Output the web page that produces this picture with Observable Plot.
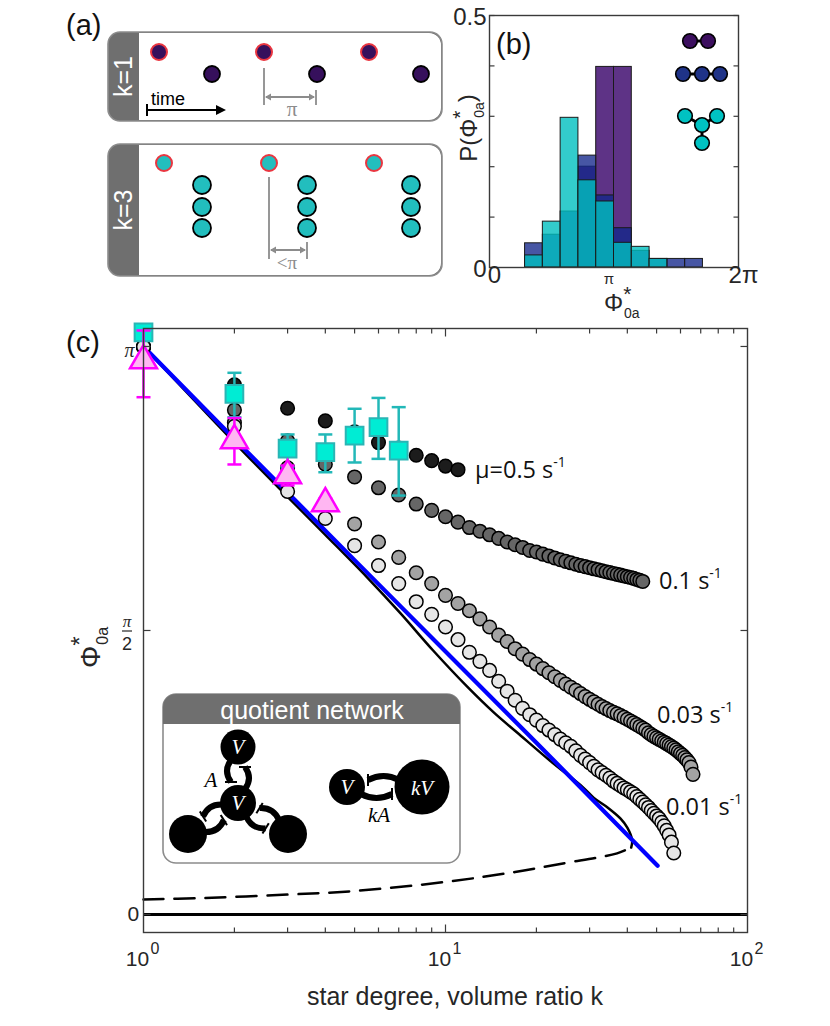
<!DOCTYPE html>
<html><head><meta charset="utf-8">
<script src="https://cdn.jsdelivr.net/npm/d3@7"></script>
<script src="https://cdn.jsdelivr.net/npm/@observablehq/plot@0.6"></script>
<style>
body{margin:0;background:#fff;}
#root{position:relative;width:830px;height:1026px;overflow:hidden;font-family:"Liberation Sans",Arial,sans-serif;}
#root > svg{position:absolute;overflow:visible;}
</style></head><body><div id="root"></div>
<script>
// ---------- DATA ----------
// panel (b): histogram bins (index of bin of width 2π/14) and probabilities
const histBins  = [2, 3, 4, 5, 6, 7, 8, 9, 10, 11];
const histPair  = [0, 0, 0, 0.200, 0.398, 0.398, 0, 0, 0, 0];
const histChain = [0.048, 0.065, 0.111, 0.222, 0.143, 0.078, 0.033, 0.017, 0.017, 0.017];
const histStar  = [0.024, 0.091, 0.297, 0.173, 0.131, 0.049, 0.041, 0.017, 0, 0];

// panel (c): simulated phase vs k for four mu values (k = 1, 2, 3, ...)
const mu05 = [3.14,2.93,2.80,2.73,2.67,2.61,2.58,2.54,2.51,2.48,2.46];
const mu01 = [3.14,2.79,2.62,2.49,2.42,2.36,2.32,2.27,2.235,2.20,2.17,2.14,2.12,2.10,2.08,2.06,2.045,2.03,2.013,2.005,
  1.993,1.983,1.972,1.962,1.953,1.945,1.937,1.93,1.924,1.918,1.912,1.907,1.901,1.896,1.891,1.886,1.881,1.877,1.872,1.868,
  1.864,1.859,1.853,1.848,1.842];
const mu003 = [3.14,2.72,2.47,2.28,2.16,2.06,1.975,1.89,1.83,1.765,1.72,1.68,1.635,1.59,1.545,1.51,1.47,1.44,1.41,1.385,
  1.36,1.337,1.315,1.295,1.275,1.257,1.24,1.222,1.205,1.19,1.176,1.163,1.15,1.139,1.128,1.118,1.11,1.10,1.09,1.08,
  1.07,1.06,1.05,1.04,1.03,1.02,1.005,0.995,0.985,0.977,0.969,0.961,0.953,0.945,0.937,0.929,0.92,0.911,0.90,0.89,
  0.88,0.868,0.855,0.84,0.815,0.775];
const mu001 = [3.14,2.70,2.34,2.19,2.04,1.93,1.83,1.73,1.66,1.59,1.52,1.45,1.40,1.35,1.29,1.235,1.185,1.14,1.105,1.075,
  1.045,1.02,0.995,0.97,0.95,0.93,0.905,0.88,0.86,0.84,0.82,0.80,0.785,0.77,0.755,0.738,0.725,0.712,0.70,0.69,
  0.678,0.667,0.652,0.637,0.622,0.607,0.592,0.575,0.56,0.545,0.53,0.51,0.49,0.465,0.44,0.40,0.34];

// theory curves
const blueK = [1, 2, 5, 10, 20, 50.4];
const blueY = [3.1416, 2.63, 1.96, 1.455, 0.95, 0.27];
const stableK = [1, 2, 3, 4, 5.5, 7.1, 9.1, 11.8, 14.5, 17.3, 22.2, 28.6, 31, 34.4, 38, 40, 41.5, 41.2];
const stableY = [3.1416, 2.61, 2.31, 2.10, 1.865, 1.665, 1.46, 1.26, 1.115, 1.005, 0.85, 0.702, 0.645, 0.592, 0.53, 0.48, 0.41, 0.37];
const unstableK = [1, 1.5, 3, 5, 10, 17, 25, 32, 37, 41.2];
const unstableY = [0.083, 0.09, 0.11, 0.13, 0.18, 0.235, 0.285, 0.315, 0.338, 0.37];

// experiments
const sqK  = [1, 2, 3, 4, 5, 6, 7];
const sqY  = [3.22, 2.88, 2.577, 2.557, 2.649, 2.695, 2.566];
const sqLo = [null, 2.75, 2.474, 2.446, 2.50, 2.52, 2.317];
const sqHi = [null, 2.996, 2.655, 2.655, 2.797, 2.857, 2.806];
const triK  = [1, 2, 3, 4];
const triY  = [3.064, 2.622, 2.428, 2.273];
const triLo = [2.861, 2.489, 2.373, 2.25];
const triHi = [3.23, 2.746, 2.483, 2.30];

// axis ticks
const xMajor = [1, 10, 100];
const xMinor = [2,3,4,5,6,7,8,9,20,30,40,50,60,70,80,90];
const yTicksC = [0, Math.PI/2, Math.PI];
const yTicksB = [0, 0.1, 0.2, 0.3, 0.4, 0.5];

// ---------- helpers ----------
const seg = (x1,y1,x2,y2) => ({draw(ctx){ctx.moveTo(x1,y1); ctx.lineTo(x2,y2);}});
const root = document.getElementById("root");
const place = (el, l, t) => { el.style.left = l + "px"; el.style.top = t + "px"; root.appendChild(el); };
const axisColor = "#3a3a3a";

// ---------- panel (c) ----------
const series = (arr) => arr.map((y, i) => ({k: i + 1, y}));
const pairs = (ks, ys) => ks.map((k, i) => ({k, y: ys[i]}));
const sqRows = sqK.map((k, i) => ({k, y: sqY[i], lo: sqLo[i], hi: sqHi[i]}));
const triRows = triK.map((k, i) => ({k, y: triY[i], lo: triLo[i], hi: triHi[i]}));
const sqBars = sqRows.filter(d => d.lo != null);
const capSym = seg(-7, 0, 7, 0);

const plotC = Plot.plot({
  width: 830, height: 726,
  marginLeft: 143, marginRight: 83, marginTop: 28, marginBottom: 94,
  x: {type: "log", domain: [1, 100], axis: null},
  y: {domain: [-0.0996, 3.241], axis: null},
  style: {fontFamily: "Liberation Sans, Arial, sans-serif", color: "#262626", background: "transparent", overflow: "visible"},
  marks: [
    Plot.ruleY([0], {stroke: "#000", strokeWidth: 3}),
    Plot.line(pairs(unstableK, unstableY), {x: "k", y: "y", stroke: "#000", strokeWidth: 2.5, strokeDasharray: "20,11", curve: "catmull-rom"}),
    Plot.line(pairs(stableK, stableY), {x: "k", y: "y", stroke: "#000", strokeWidth: 2.5, curve: "catmull-rom"}),
    Plot.line(pairs(blueK, blueY), {x: "k", y: "y", stroke: "#0000ff", strokeWidth: 4.2}),
    Plot.dot(series(mu05), {x: "k", y: "y", r: 6.8, fill: "#1c1c1c", stroke: "#000", strokeWidth: 1.5}),
    Plot.dot(series(mu01), {x: "k", y: "y", r: 6.8, fill: "#666666", stroke: "#000", strokeWidth: 1.5}),
    Plot.dot(series(mu003), {x: "k", y: "y", r: 6.8, fill: "#a3a3a3", stroke: "#000", strokeWidth: 1.5}),
    Plot.dot(series(mu001), {x: "k", y: "y", r: 6.8, fill: "#e6e6e6", stroke: "#000", strokeWidth: 1.5}),
    Plot.ruleX(sqBars, {x: "k", y1: "lo", y2: "hi", stroke: "#22b8b8", strokeWidth: 2.5}),
    Plot.dot(sqBars, {x: "k", y: "lo", symbol: capSym, fill: "none", stroke: "#22b8b8", strokeWidth: 2.5}),
    Plot.dot(sqBars, {x: "k", y: "hi", symbol: capSym, fill: "none", stroke: "#22b8b8", strokeWidth: 2.5}),
    Plot.dot(sqRows, {x: "k", y: "y", symbol: "square", r: 10, fill: "#00ecd4", stroke: "#2ab5b5", strokeWidth: 2}),
    Plot.ruleX(triRows, {x: "k", y1: "lo", y2: "hi", stroke: "#ff00ff", strokeWidth: 2.5}),
    Plot.dot(triRows, {x: "k", y: "lo", symbol: capSym, fill: "none", stroke: "#ff00ff", strokeWidth: 2.5}),
    Plot.dot(triRows, {x: "k", y: "hi", symbol: capSym, fill: "none", stroke: "#ff00ff", strokeWidth: 2.5}),
    Plot.dot(triRows, {x: "k", y: "y", symbol: "triangle", r: 10, fill: "#ffb6f2", stroke: "#ff00ff", strokeWidth: 2.5}),
    // frame and ticks
    Plot.frame({stroke: axisColor, strokeWidth: 1.4}),
    Plot.dot(xMinor, {x: d => d, frameAnchor: "bottom", symbol: seg(0,0,0,-5), fill: "none", stroke: axisColor, strokeWidth: 1.2}),
    Plot.dot(xMinor, {x: d => d, frameAnchor: "top", symbol: seg(0,0,0,5), fill: "none", stroke: axisColor, strokeWidth: 1.2}),
    Plot.dot([10], {x: d => d, frameAnchor: "bottom", symbol: seg(0,0,0,-8), fill: "none", stroke: axisColor, strokeWidth: 1.2}),
    Plot.dot([10], {x: d => d, frameAnchor: "top", symbol: seg(0,0,0,8), fill: "none", stroke: axisColor, strokeWidth: 1.2}),
    Plot.dot(yTicksC, {y: d => d, frameAnchor: "left", symbol: seg(0,0,7,0), fill: "none", stroke: axisColor, strokeWidth: 1.2}),
    Plot.dot(yTicksC, {y: d => d, frameAnchor: "right", symbol: seg(0,0,-7,0), fill: "none", stroke: axisColor, strokeWidth: 1.2}),
    // tick labels
    Plot.text(xMajor, {x: d => d, frameAnchor: "bottom", text: () => "10", dy: 33, dx: -6, fontSize: 21, fill: "#262626"}),
    Plot.text(xMajor, {x: d => d, frameAnchor: "bottom", text: d => String(Math.round(Math.log10(d))), dy: 21, dx: 11.5, fontSize: 16, fill: "#262626"}),
    Plot.text([0], {y: d => d, frameAnchor: "left", text: () => "0", dx: -16, dy: 0, fontSize: 21, fill: "#262626"}),
    Plot.text([Math.PI], {y: d => d, frameAnchor: "left", text: () => "π", dx: -19, dy: 4, fontSize: 20, fontStyle: "italic", fontFamily: "Liberation Serif, serif", fill: "#262626"})
  ]
});
place(plotC, 0, 300);

// ---------- panel (b) ----------
const binW = 2 * Math.PI / 14;
const histRows = vals => histBins.map((b, i) => ({x1: b * binW, x2: (b + 1) * binW, p: vals[i]})).filter(d => d.p > 0);
const plotB = Plot.plot({
  width: 330, height: 310,
  marginLeft: 49, marginRight: 32, marginTop: 15, marginBottom: 43,
  x: {domain: [0, 2 * Math.PI], axis: null},
  y: {domain: [0, 0.5], axis: null},
  style: {fontFamily: "Liberation Sans, Arial, sans-serif", color: "#262626", background: "transparent", overflow: "visible"},
  marks: [
    Plot.rect(histRows(histPair), {x1: "x1", x2: "x2", y1: 0, y2: "p", fill: "#5e3386", stroke: "#1a1a1a", strokeWidth: 1}),
    Plot.rect(histRows(histChain), {x1: "x1", x2: "x2", y1: 0, y2: "p", fill: "#13278b", fillOpacity: 0.78, stroke: "#1a1a1a", strokeWidth: 1}),
    Plot.rect(histRows(histStar), {x1: "x1", x2: "x2", y1: 0, y2: "p", fill: "#00bfbf", fillOpacity: 0.8, stroke: "#1a1a1a", strokeWidth: 1}),
    Plot.frame({stroke: axisColor, strokeWidth: 1.4}),
    Plot.dot(yTicksB, {y: d => d, frameAnchor: "left", symbol: seg(0,0,5,0), fill: "none", stroke: axisColor, strokeWidth: 1.2}),
    Plot.dot(yTicksB, {y: d => d, frameAnchor: "right", symbol: seg(0,0,-5,0), fill: "none", stroke: axisColor, strokeWidth: 1.2}),
    Plot.text([0, 0.5], {y: d => d, frameAnchor: "left", text: d => String(d), textAnchor: "end", dx: -3, dy: 2, fontSize: 24, fill: "#262626"}),
    Plot.text([0, 2 * Math.PI], {x: d => d, frameAnchor: "bottom", text: d => d === 0 ? "0" : "2π", dx: 5, dy: 15, fontSize: 24, fill: "#262626"}),
    Plot.text([Math.PI], {x: d => d, frameAnchor: "bottom", text: () => "π", dx: -5, dy: 16, fontSize: 15, fill: "#262626"})
  ]
});
place(plotB, 440, 0);

// ---------- decorations (schematics, labels) ----------
const purple = "#36105c", cyanA = "#22bebe", red = "#ea3640", grey = "#8c8c8c", tab = "#6f6f6f";
function box(y, h, label) {
  return `<rect x="108" y="${y}" width="334" height="${h}" rx="12" fill="${tab}"/>
  <path d="M139,${y+1} H429 A12,12 0 0 1 441,${y+13} V${y+h-13} A12,12 0 0 1 429,${y+h-1} H139 Z" fill="#fff"/>
  <rect x="108" y="${y}" width="334" height="${h}" rx="12" fill="none" stroke="${grey}" stroke-width="1.6"/>
  <text transform="translate(132,${y+h/2}) rotate(-90)" text-anchor="middle" font-size="25" fill="#fff">${label}</text>`;
}
const circ = (x, y, f, s, r = 8, w = 1.8) => `<circle cx="${x}" cy="${y}" r="${r}" fill="${f}" stroke="${s}" stroke-width="${w}"/>`;
function dblArrow(x1, x2, y) {
  return `<line x1="${x1+2}" y1="${y}" x2="${x2-2}" y2="${y}" stroke="${grey}" stroke-width="1.8"/>
  <path d="M${x1+1},${y} l6,-3.5 v7 Z M${x2-1},${y} l-6,-3.5 v7 Z" fill="${grey}"/>`;
}
function conn(p1, r1, p2, r2) {
  const dx = p2[0]-p1[0], dy = p2[1]-p1[1], L = Math.hypot(dx, dy);
  const ux = dx/L, uy = dy/L, nx = -uy, ny = ux;
  let s = "";
  for (const sg of [1, -1]) {
    const off = 7 * sg;
    const a = [p1[0] + ux*(r1-4) + nx*off, p1[1] + uy*(r1-4) + ny*off];
    const b = [p2[0] - ux*(r2-4) + nx*off, p2[1] - uy*(r2-4) + ny*off];
    let st = a, en = b, tip;
    if (sg === 1) { en = [p2[0] - ux*(r2+3) + nx*off, p2[1] - uy*(r2+3) + ny*off]; tip = en; }
    else { st = [p1[0] + ux*(r1+3) + nx*off, p1[1] + uy*(r1+3) + ny*off]; en = b; tip = st; }
    const cc = [(st[0]+en[0])/2 + nx*8*sg, (st[1]+en[1])/2 + ny*8*sg];
    s += `<path d="M${st[0]},${st[1]} Q${cc[0]},${cc[1]} ${en[0]},${en[1]}" fill="none" stroke="#000" stroke-width="6"/>`;
    s += `<line x1="${tip[0]+nx*6}" y1="${tip[1]+ny*6}" x2="${tip[0]-nx*6}" y2="${tip[1]-ny*6}" stroke="#000" stroke-width="2"/>`;
  }
  return s;
}
// Φ with superscript star and subscript "0a"
const phi = (fs, supfs, subfs) =>
  `Φ<tspan font-size="${supfs}" dy="-${fs*0.42}">*</tspan><tspan font-size="${subfs}" dx="-${supfs*0.35}" dy="${fs*0.7}">0a</tspan>`;

const topV = [238, 747], midV = [238, 803], blV = [188, 834], brV = [288, 834];
const qV = [347, 787], qkV = [422, 787];

const deco = `
<svg xmlns="http://www.w3.org/2000/svg" width="830" height="1026" style="left:0;top:0" font-family="Liberation Sans, Arial, sans-serif">
  <text x="66" y="35" font-size="29" fill="#111">(a)</text>
  ${box(32, 89, "k=1")}
  ${circ(159, 52, purple, red, 8, 2)}${circ(264, 52, purple, red, 8, 2)}${circ(369, 52, purple, red, 8, 2)}
  ${circ(212, 74, purple, "#000")}${circ(317, 74, purple, "#000")}${circ(421, 74, purple, "#000")}
  <line x1="264" y1="68" x2="264" y2="105" stroke="${grey}" stroke-width="1.8"/>
  <line x1="316" y1="90" x2="316" y2="105" stroke="${grey}" stroke-width="1.8"/>
  ${dblArrow(264, 316, 97)}
  <text x="292" y="116" font-size="21" font-family="Liberation Serif, serif" fill="${grey}" text-anchor="middle">π</text>
  <text x="151" y="105" font-size="18" fill="#000">time</text>
  <line x1="147" y1="110" x2="218" y2="110" stroke="#000" stroke-width="2.2"/>
  <path d="M226,110 L216,105 L216,115 Z" fill="#000"/>
  <line x1="147" y1="104" x2="147" y2="116" stroke="#000" stroke-width="2"/>

  ${box(144, 132, "k=3")}
  ${circ(164, 163, cyanA, red, 8, 2)}${circ(269, 163, cyanA, red, 8, 2)}${circ(374, 163, cyanA, red, 8, 2)}
  ${[202, 307, 411].map(x => [185, 207, 228].map(y => circ(x, y, cyanA, "#000", 9)).join("")).join("")}
  <line x1="269" y1="177" x2="269" y2="259" stroke="${grey}" stroke-width="1.8"/>
  <line x1="307" y1="242" x2="307" y2="259" stroke="${grey}" stroke-width="1.8"/>
  ${dblArrow(269, 307, 250)}
  <text x="287" y="269" font-size="19" font-family="Liberation Serif, serif" fill="${grey}" text-anchor="middle">&lt;π</text>

  <!-- panel b labels and icons -->
  <text x="496" y="54" font-size="29" fill="#111">(b)</text>
  <text transform="translate(477,128) rotate(-90)" text-anchor="middle" font-size="24" fill="#262626">P(${phi(24, 21, 14)}<tspan dy="-9">)</tspan></text>
  <text x="604" y="311" font-size="24" fill="#262626">${phi(24, 21, 14)}</text>
  <line x1="690" y1="41" x2="708" y2="41" stroke="#000" stroke-width="3"/>
  ${circ(690, 41, "#3c0f5f", "#000", 7.3, 1.6)}${circ(708, 41, "#3c0f5f", "#000", 7.3, 1.6)}
  <line x1="683" y1="74" x2="720" y2="74" stroke="#000" stroke-width="3"/>
  ${circ(683, 74, "#1f3388", "#000", 7.3, 1.6)}${circ(702, 74, "#1f3388", "#000", 7.3, 1.6)}${circ(720, 74, "#1f3388", "#000", 7.3, 1.6)}
  <path d="M685,116 L702,125 L717,116 M702,125 L702,143" stroke="#000" stroke-width="3" fill="none"/>
  ${circ(685, 116, "#00c2c2", "#000", 7.3, 1.6)}${circ(717, 116, "#00c2c2", "#000", 7.3, 1.6)}${circ(702, 125, "#00c2c2", "#000", 7.3, 1.6)}${circ(702, 143, "#00c2c2", "#000", 7.3, 1.6)}

  <!-- panel c labels -->
  <text x="66" y="352" font-size="29" fill="#111">(c)</text>
  <text transform="translate(100,668) rotate(-90)" font-size="28" fill="#262626">${phi(28, 24, 16)}</text>
  <text x="127" y="627" font-size="17" font-family="Liberation Serif, serif" font-style="italic" fill="#262626" text-anchor="middle">π</text>
  <line x1="122" y1="631" x2="132" y2="631" stroke="#262626" stroke-width="1.2"/>
  <text x="127" y="650" font-size="18" fill="#262626" text-anchor="middle">2</text>
  <text x="455" y="1005" font-size="25" fill="#262626" text-anchor="middle">star degree, volume ratio k</text>
  <g font-family="Open Sans, Noto Sans, sans-serif" font-size="23.5" fill="#111">
    <text x="475" y="478">μ=0.5 s<tspan font-size="14" dy="-11">-1</tspan></text>
    <text x="659" y="589">0.1 s<tspan font-size="14" dy="-11">-1</tspan></text>
    <text x="657" y="723">0.03 s<tspan font-size="14" dy="-11">-1</tspan></text>
    <text x="666" y="815">0.01 s<tspan font-size="14" dy="-11">-1</tspan></text>
  </g>

  <!-- quotient network inset -->
  <rect x="163" y="694" width="297" height="169" rx="13" fill="#fff" stroke="${grey}" stroke-width="1.6"/>
  <path d="M163,724 V707 A13,13 0 0 1 176,694 H447 A13,13 0 0 1 460,707 V724 Z" fill="${tab}"/>
  <text x="312" y="719" font-size="25" fill="#fff" text-anchor="middle">quotient network</text>
  ${conn(midV, 18, topV, 17)}${conn(midV, 18, blV, 19)}${conn(midV, 18, brV, 19)}
  ${conn(qV, 18, qkV, 27)}
  <circle cx="${topV[0]}" cy="${topV[1]}" r="17.5" fill="#000"/>
  <circle cx="${midV[0]}" cy="${midV[1]}" r="18" fill="#000"/>
  <circle cx="${blV[0]}" cy="${blV[1]}" r="19" fill="#000"/>
  <circle cx="${brV[0]}" cy="${brV[1]}" r="19" fill="#000"/>
  <circle cx="${qV[0]}" cy="${qV[1]}" r="18" fill="#000"/>
  <circle cx="${qkV[0]}" cy="${qkV[1]}" r="27.5" fill="#000"/>
  <g font-family="Liberation Serif, serif" font-style="italic" font-size="21" text-anchor="middle">
    <text x="238" y="754" fill="#fff">V</text>
    <text x="238" y="810" fill="#fff">V</text>
    <text x="347" y="794" fill="#fff">V</text>
    <text x="422" y="795" fill="#fff">kV</text>
    <text x="211" y="787" fill="#000">A</text>
    <text x="379" y="822" fill="#000">kA</text>
  </g>
</svg>`;
root.insertAdjacentHTML("beforeend", deco);
</script></body></html>
